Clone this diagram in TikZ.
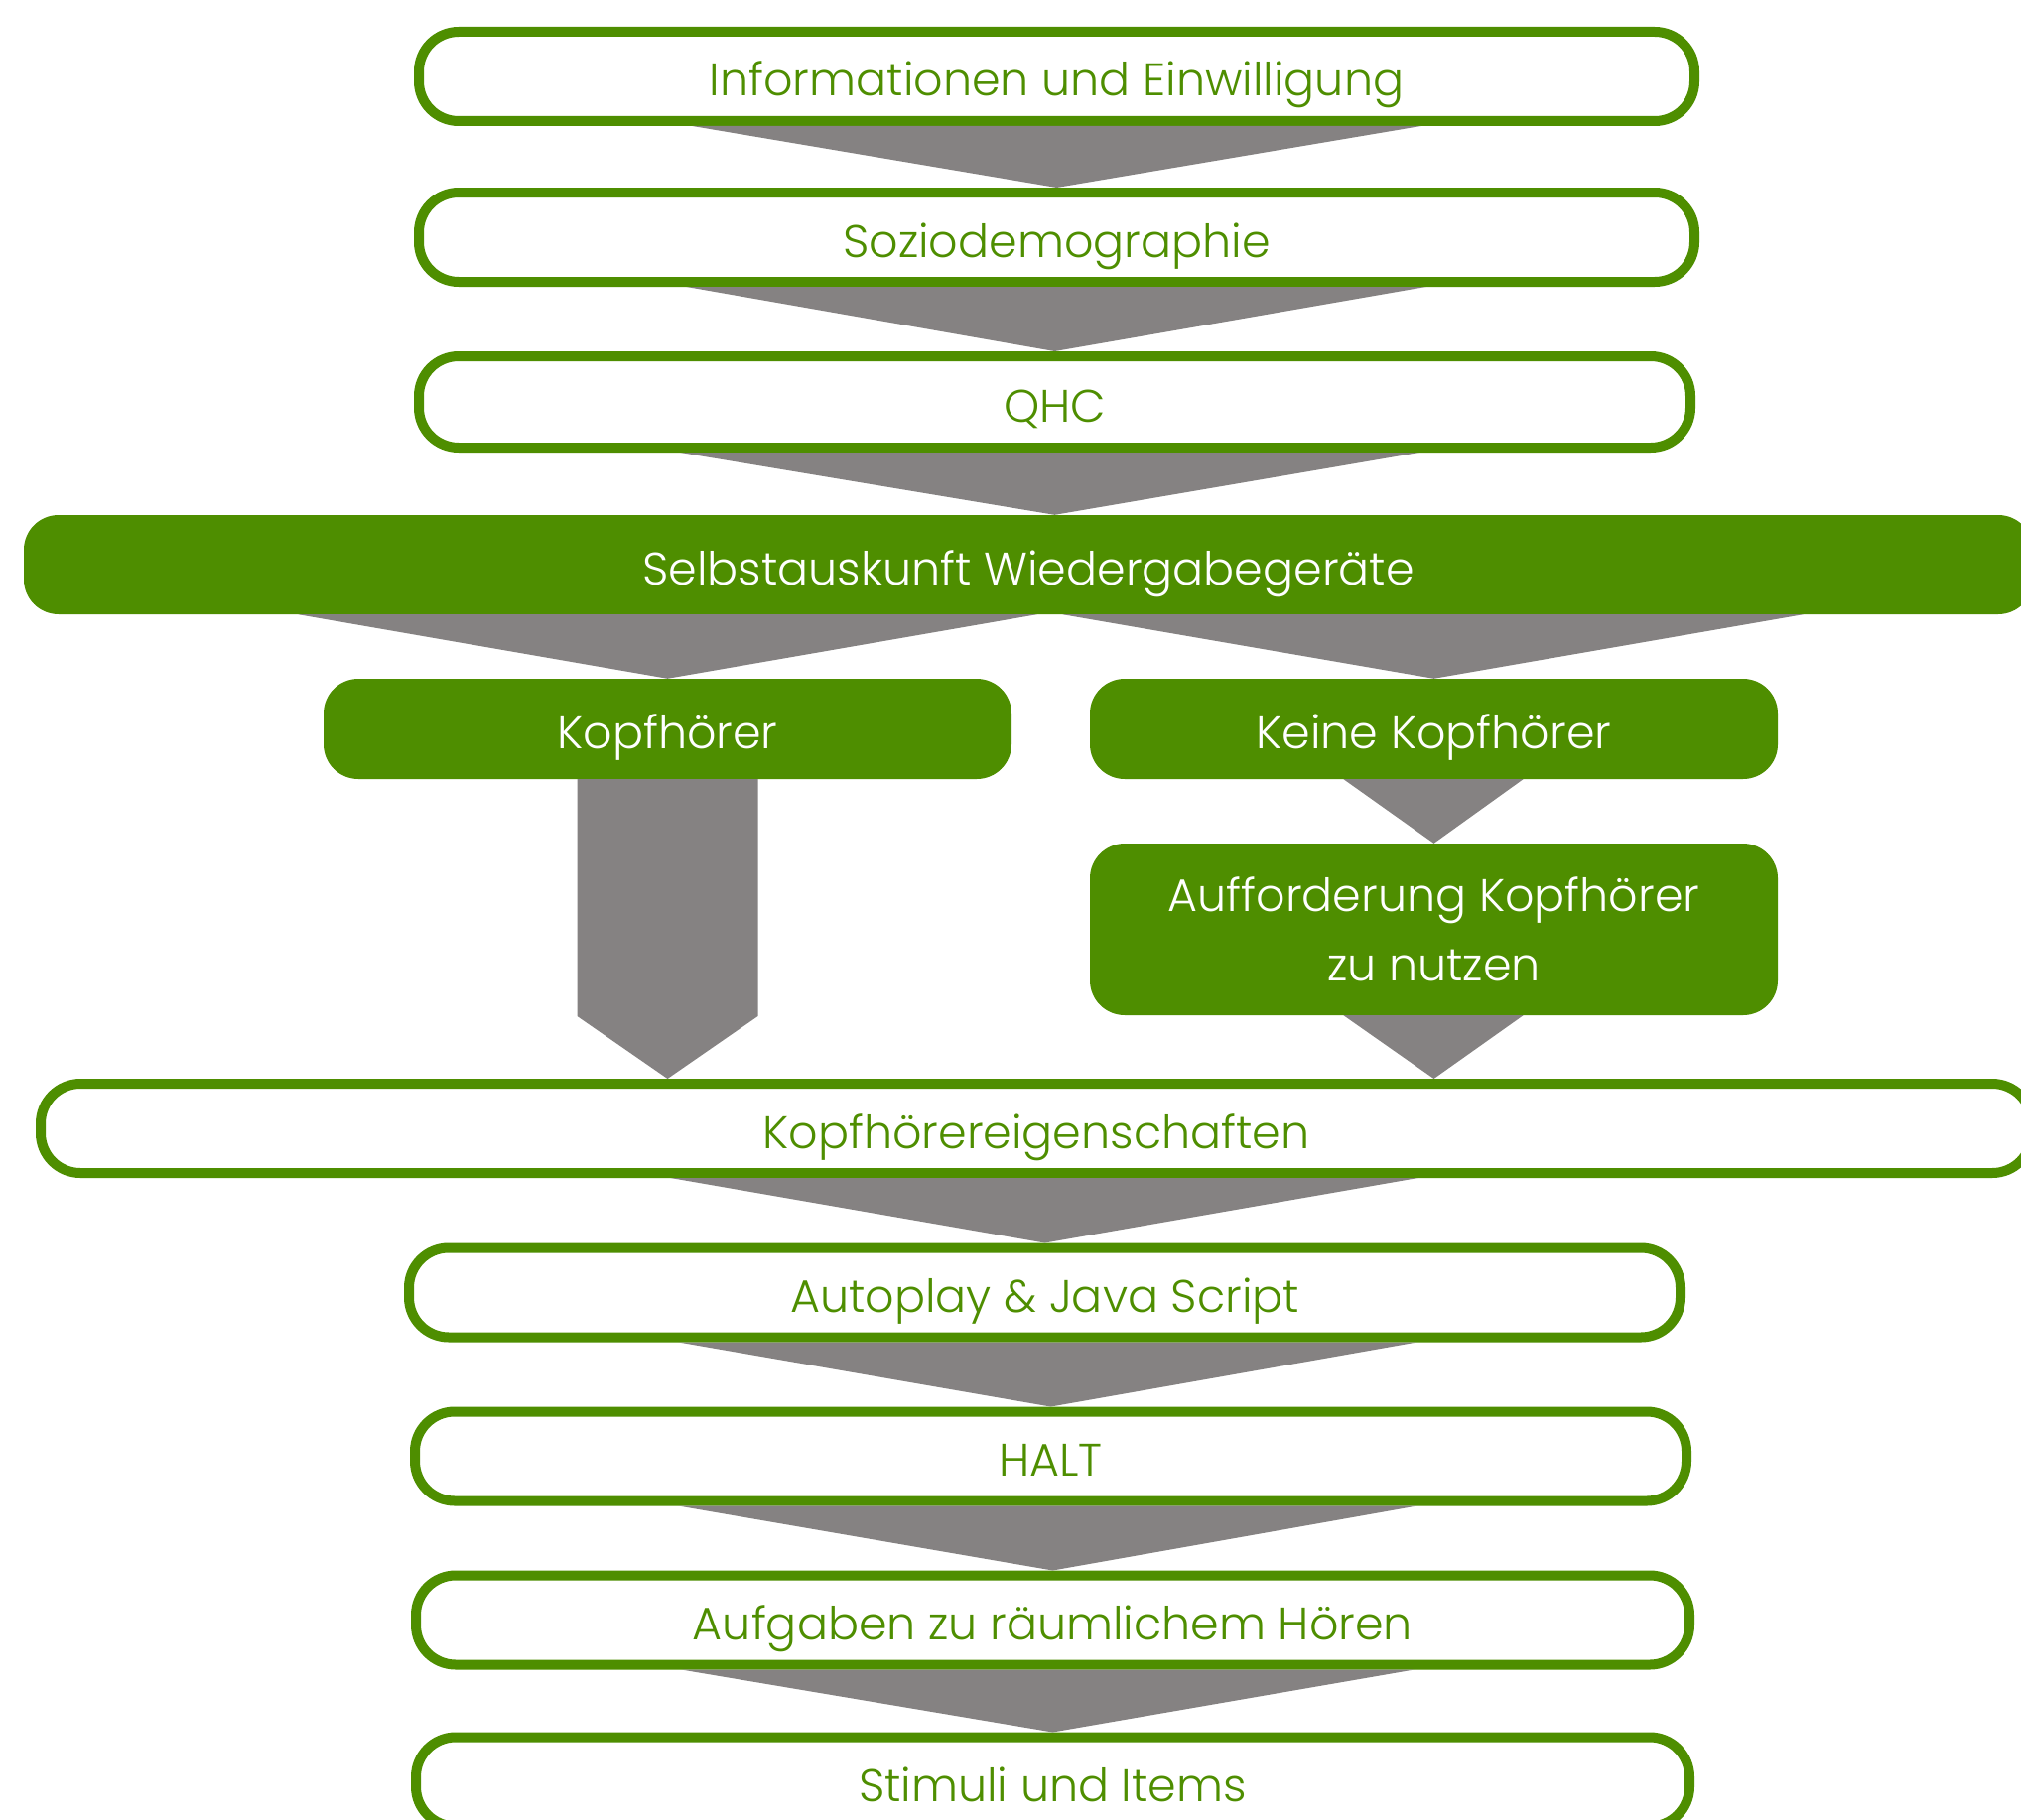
\documentclass[tikz,border=0pt]{standalone}
\usepackage{fontspec}
\setmainfont{Poppins}[UprightFont=* Light]
\usetikzlibrary{calc}
\definecolor{kgreen}{RGB}{78,142,0}
\definecolor{kgray}{RGB}{133,130,130}
\tikzset{
  wbox/.style={draw=kgreen, line width=10pt, fill=white, rounded corners=40pt,
    text=kgreen, minimum height=90pt, inner sep=0pt, align=center,
    text height=40pt, text depth=0pt,
    font=\fontsize{46}{70}\selectfont},
  gbox/.style={fill=kgreen, draw=none, rounded corners=35pt,
    text=white, minimum height=100pt, inner sep=0pt, align=center,
    text height=40pt, text depth=0pt,
    font=\fontsize{46}{70}\selectfont},
  gbox2/.style={gbox, text height=, text depth=},
  arr/.style={fill=kgray, draw=none}
}
\begin{document}
\begin{tikzpicture}[x=1pt, y=-1pt]
\useasboundingbox (0,0) rectangle (2036,1833);
\clip (0,0) rectangle (2036,1833);
\fill[white] (0,0) rectangle (2036,1833);

\node[wbox, minimum width=1285pt] (b1) at (1064.5,77) {Informationen und Einwilligung};
\node[wbox, minimum width=1285pt] (b2) at (1064.5,239) {Soziodemographie};
\node[wbox, minimum width=1281pt, minimum height=92pt] (b3) at (1062.5,405) {QHC};
\node[gbox, minimum width=2024pt] (sel) at (1036,569) {Selbstauskunft Wiedergabeger\"ate};
\node[gbox, minimum width=693pt, minimum height=101pt] (kopf) at (672.5,734.5) {Kopfh\"orer};
\node[gbox, minimum width=693pt, minimum height=101pt] (keine) at (1444.5,734.5) {Keine Kopfh\"orer};
\node[gbox2, minimum width=693pt, minimum height=173pt] (auff) at (1444.5,936.5) {Aufforderung Kopfh\"orer\\zu nutzen};
\node[wbox, minimum width=2006pt] (ke) at (1044,1137) {Kopfh\"orereigenschaften};
\node[wbox, minimum width=1281pt] (auto) at (1052.5,1302.5) {Autoplay \& Java Script};
\node[wbox, minimum width=1281pt] (halt) at (1058.5,1467.5) {HALT};
\node[wbox, minimum width=1283pt] (aufg) at (1060.5,1632.5) {Aufgaben zu r\"aumlichem H\"oren};
\node[wbox, minimum width=1283pt] (stim) at (1060.5,1795.5) {Stimuli und Items};

% connectors
\fill[arr] ($(b1.south)+(-367,0)$) -- ($(b1.south)+(367,0)$) -- (b2.north) -- cycle;
\fill[arr] ($(b2.south)+(-373,0)$) -- ($(b2.south)+(372,0)$) -- (b3.north) -- cycle;
\fill[arr] ($(b3.south)+(-377,0)$) -- ($(b3.south)+(367,0)$) -- (b3.south |- sel.north) -- cycle;
\fill[arr] ($(kopf.north |- sel.south)+(-372,0)$) -- ($(kopf.north |- sel.south)+(372,0)$) -- (kopf.north) -- cycle;
\fill[arr] ($(keine.north |- sel.south)+(-374,0)$) -- ($(keine.north |- sel.south)+(372,0)$) -- (keine.north) -- cycle;
\fill[arr] ($(kopf.south)+(-91,0)$) -- ($(kopf.south)+(91,0)$)
  -- ($(kopf.south |- ke.north)+(91,-63)$) -- (kopf.south |- ke.north)
  -- ($(kopf.south |- ke.north)+(-91,-63)$) -- cycle;
\fill[arr] ($(keine.south)+(-91,0)$) -- ($(keine.south)+(90,0)$) -- (auff.north) -- cycle;
\fill[arr] ($(auff.south)+(-91,0)$) -- ($(auff.south)+(90,0)$) -- (auff.south |- ke.north) -- cycle;
\fill[arr] ($(auto.north |- ke.south)+(-377,0)$) -- ($(auto.north |- ke.south)+(376,0)$) -- (auto.north) -- cycle;
\fill[arr] ($(auto.south)+(-369,0)$) -- ($(auto.south)+(375,0)$) -- (halt.north) -- cycle;
\fill[arr] ($(halt.south)+(-375,0)$) -- ($(halt.south)+(369,0)$) -- (aufg.north) -- cycle;
\fill[arr] ($(aufg.south)+(-374,0)$) -- ($(aufg.south)+(364,0)$) -- (stim.north) -- cycle;
\end{tikzpicture}
\end{document}
